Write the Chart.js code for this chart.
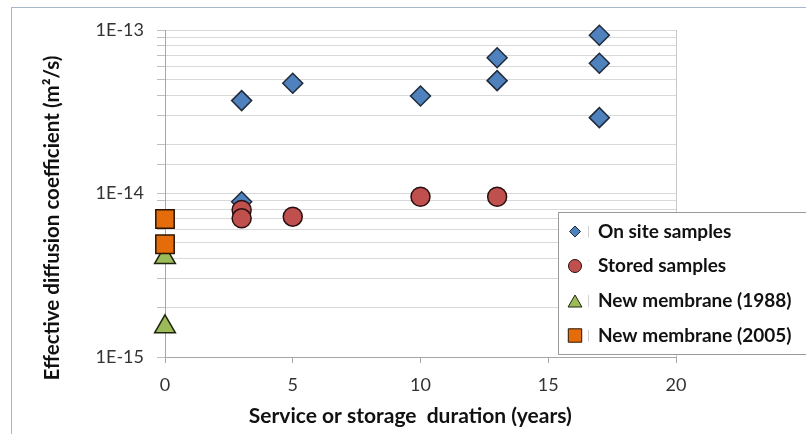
<!DOCTYPE html>
<html>
<head>
<meta charset="utf-8">
<script src="https://cdn.jsdelivr.net/npm/chart.js@4.4.1/dist/chart.umd.min.js"></script>
<style>
  html, body { margin: 0; padding: 0; background: #fff; }
  #wrap { width: 806px; height: 434px; position: relative; }
</style>
</head>
<body>
<div id="wrap"><canvas id="diffChart" width="806" height="434"></canvas></div>
<script>
// data (x = years, y = m2/s)
const onSiteX = [3, 3, 5, 10, 13, 13, 17, 17, 17];
const onSiteY = [3.7e-14, 8.9e-15, 4.72e-14, 3.95e-14, 6.77e-14, 4.9e-14, 9.28e-14, 6.26e-14, 2.91e-14];
const storedX = [3, 3, 5, 10, 13];
const storedY = [7.93e-15, 7.05e-15, 7.22e-15, 9.56e-15, 9.56e-15];
const new1988X = [0, 0];
const new1988Y = [4.06e-15, 1.53e-15];
const new2005X = [0, 0];
const new2005Y = [6.98e-15, 4.89e-15];

const seriesNames = ['On site samples', 'Stored samples', 'New membrane (1988)', 'New membrane (2005)'];
const xTicks = [0, 5, 10, 15, 20];
const yDecades = ['1E-13', '1E-14', '1E-15'];
const yTitle = 'Effective diffusion coefficient (m\u00b2/s)';
const xTitle = 'Service or storage  duration (years)';

function pts(xs, ys) {
    return xs.map(function (x, i) { return { x: x, y: ys[i] }; });
}

const FONT = 'Lato, "Open Sans", sans-serif';
Chart.defaults.font.family = FONT;

// frame, plot border, y title and a legend drawn inside the plot like the original
const extras = {
    id: 'extras',
    beforeDraw(chart) {
        const ctx = chart.ctx;
        ctx.save();
        ctx.fillStyle = '#fff';
        ctx.fillRect(0, 0, chart.width, chart.height);
        ctx.strokeStyle = '#a7b6c8';
        ctx.lineWidth = 1;
        ctx.strokeRect(11.5, 7.5, chart.width, chart.height);
        ctx.restore();
    },
    beforeDatasetsDraw(chart) {
        const a = chart.chartArea;
        const ctx = chart.ctx;
        ctx.save();
        ctx.strokeStyle = '#c8c8c8';
        ctx.lineWidth = 1;
        ctx.beginPath();
        ctx.moveTo(Math.round(a.right) + 0.5, a.top);
        ctx.lineTo(Math.round(a.right) + 0.5, a.bottom);
        ctx.stroke();
        ctx.restore();
    },
    afterDraw(chart) {
        const ctx = chart.ctx;
        ctx.save();

        // y axis title, sized to the span it has in the original
        ctx.font = 'bold 20px ' + FONT;
        const size = 20 * 325 / ctx.measureText(yTitle).width;
        ctx.font = 'bold ' + size.toFixed(2) + 'px ' + FONT;
        ctx.translate(52, 218);
        ctx.rotate(-Math.PI / 2);
        ctx.fillStyle = '#111';
        ctx.textAlign = 'center';
        ctx.textBaseline = 'middle';
        ctx.fillText(yTitle, 0, 0);
        ctx.setTransform(1, 0, 0, 1, 0, 0);

        const bx = 558, by = 212, bw = 260, bh = 142;
        ctx.fillStyle = '#fff';
        ctx.fillRect(bx, by, bw, bh);
        ctx.strokeStyle = '#9a9a9a';
        ctx.lineWidth = 1;
        ctx.strokeRect(bx + 0.5, by + 0.5, bw, bh);
        const rows = [231.5, 266, 301, 335.5];
        const radii = [5.5, 6.5, 8, 9.5];
        chart.data.datasets.forEach(function (ds, i) {
            const y = rows[i];
            ctx.fillStyle = ds.backgroundColor;
            ctx.strokeStyle = ds.borderColor;
            ctx.lineWidth = 1;
            Chart.helpers.drawPoint(ctx, { pointStyle: ds.pointStyle, radius: radii[i], rotation: 0, borderWidth: 1 }, 575, i === 2 ? y + 2 : y);
            ctx.strokeStyle = '#d0d0d0';
            ctx.beginPath();
            ctx.moveTo(588.5, y - 6);
            ctx.lineTo(588.5, i === 1 ? y - 5 : y + 6);
            ctx.stroke();
            ctx.fillStyle = '#111';
            ctx.font = 'bold 19px ' + FONT;
            ctx.textAlign = 'left';
            ctx.textBaseline = 'middle';
            ctx.fillText(ds.label, 598, y);
        });
        ctx.restore();
    }
};

new Chart(document.getElementById('diffChart').getContext('2d'), {
    type: 'scatter',
    data: {
        datasets: [
            { label: seriesNames[0], data: pts(onSiteX, onSiteY), pointStyle: 'rectRot', radius: 10,
              backgroundColor: '#4f81bd', borderColor: '#1f2a3a', borderWidth: 1.5, order: 4, clip: false },
            { label: seriesNames[1], data: pts(storedX, storedY), pointStyle: 'circle', radius: 9.5,
              backgroundColor: '#c0504d', borderColor: '#2a1010', borderWidth: 1.5, order: 3, clip: false },
            { label: seriesNames[2], data: pts(new1988X, new1988Y), pointStyle: 'triangle', radius: 12,
              backgroundColor: '#9bbb59', borderColor: '#1e2610', borderWidth: 1.5, order: 2, clip: false },
            { label: seriesNames[3], data: pts(new2005X, new2005Y), pointStyle: 'rect', radius: 13,
              backgroundColor: '#e46c0a', borderColor: '#2a1500', borderWidth: 1.5, order: 1, clip: false }
        ]
    },
    options: {
        responsive: false,
        animation: false,
        events: [],
        layout: { padding: { top: 30, right: 130, bottom: 0, left: 0 } },
        plugins: {
            legend: { display: false },
            tooltip: { enabled: false }
        },
        scales: {
            x: {
                type: 'linear',
                min: xTicks[0],
                max: xTicks[xTicks.length - 1],
                afterBuildTicks: function (scale) {
                    scale.ticks = xTicks.map(function (v) { return { value: v }; });
                },
                afterFit: function (scale) { scale.height = 77; },
                grid: { drawOnChartArea: false, drawTicks: true, tickLength: 6, color: '#a6a6a6' },
                border: { color: '#a6a6a6' },
                ticks: { font: { size: 18 }, color: '#333', padding: 11, maxRotation: 0 },
                title: {
                    display: true,
                    text: xTitle + '    ',
                    font: { size: 21, weight: 'bold' },
                    color: '#111',
                    padding: { top: 0, bottom: 5 }
                }
            },
            y: {
                type: 'logarithmic',
                min: 1e-15,
                max: 1e-13,
                afterFit: function (scale) { scale.width = 165; },
                grid: { color: '#d9d9d9', tickColor: '#bfbfbf', tickLength: 8 },
                border: { color: '#a6a6a6' },
                ticks: {
                    autoSkip: false,
                    font: { size: 18 },
                    color: '#333',
                    padding: 13,
                    callback: function (v) {
                        const l = Math.log10(v);
                        if (Math.abs(l - Math.round(l)) > 1e-6) return '';
                        return yDecades.find(function (s) { return s === '1E' + Math.round(l); }) || '';
                    }
                },
                title: { display: false }
            }
        }
    },
    plugins: [extras]
});
</script>
</body>
</html>
